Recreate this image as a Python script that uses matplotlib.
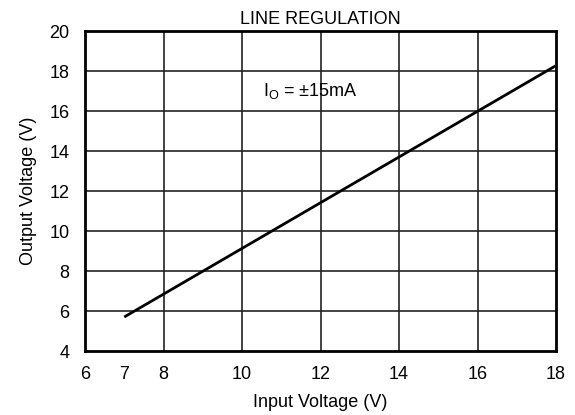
import matplotlib
matplotlib.use('Agg')
import matplotlib.pyplot as plt

plt.rcParams['font.family'] = ['Liberation Sans', 'DejaVu Sans']

# line regulation data
v_in = [7, 18]
v_out = [5.7, 18.27]

x_ticks = [6, 7, 8, 10, 12, 14, 16, 18]
y_ticks = [4, 6, 8, 10, 12, 14, 16, 18, 20]

fig = plt.figure(figsize=(5.75, 4.15), dpi=100)
ax = fig.add_axes([85/575, 1 - 351/415, 471/575, 320/415])

ax.plot(v_in, v_out, color='black', lw=2, solid_capstyle='butt')

ax.set_xlim(6, 18)
ax.set_ylim(4, 20)
ax.set_xticks(x_ticks)
ax.set_yticks(y_ticks)
ax.grid(False)
for x in [8, 10, 12, 14, 16]:
    ax.axvline(x, color='#222222', lw=1.2, zorder=0)
for y in [6, 8, 10, 12, 14, 16, 18]:
    ax.axhline(y, color='#222222', lw=1.2, zorder=0)

ax.tick_params(length=0, labelsize=13, pad=11)
for s in ax.spines.values():
    s.set_linewidth(2)

ax.text(11.75, 17, r'I$_\mathregular{O}$ = ±15mA', ha='center', va='center', fontsize=13)
ax.set_title('LINE REGULATION', fontsize=13, pad=5)
ax.set_xlabel('Input Voltage (V)', fontsize=13, labelpad=8)
ax.set_ylabel('Output Voltage (V)', fontsize=13, labelpad=9)

fig.savefig('out.png', dpi=100)
